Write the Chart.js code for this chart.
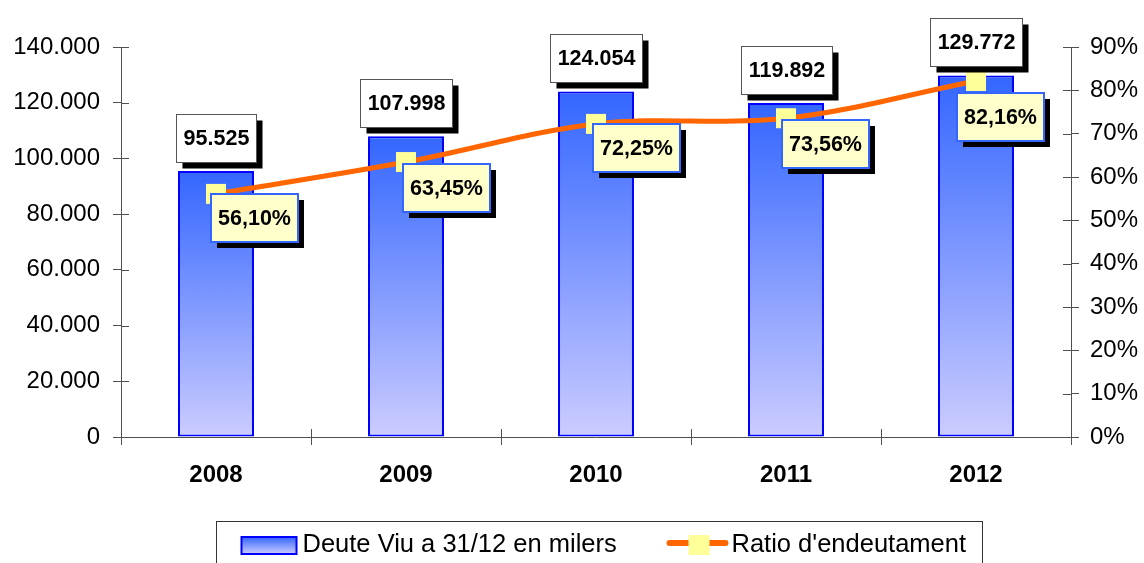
<!DOCTYPE html>
<html><head><meta charset="utf-8">
<script src="https://cdn.jsdelivr.net/npm/chart.js@4"></script>
<style>html,body{margin:0;padding:0;background:#fff}#wrap{width:1144px;height:563px;position:relative}</style>
</head><body><div id="wrap"><canvas id="c" width="1144" height="563"></canvas></div>
<script>
// ---- data ----
const years = ['2008', '2009', '2010', '2011', '2012'];
const debt = [95525, 107998, 124054, 119892, 129772];
const ratio = [56.10, 63.45, 72.25, 73.56, 82.16];
const debtLabel = 'Deute Viu a 31/12 en milers';
const ratioLabel = "Ratio d'endeutament";
const debtAxis = { min: 0, max: 140000, step: 20000 };
const ratioAxis = { min: 0, max: 90, step: 10 };

const FONT = '"Liberation Sans", Arial, Helvetica, sans-serif';
const fmtThousands = v => String(Math.round(v)).replace(/\B(?=(\d{3})+(?!\d))/g, '.');
const fmtPct = v => v.toFixed(2).replace('.', ',') + '%';

const AXIS_COLOR = '#505050';
const TICK_IN = 8;

function barGradient(ctx) {
  const chart = ctx.chart;
  if (!chart.chartArea || ctx.type !== 'data') return '#3366FF';
  const ys = chart.scales.y;
  const top = ys.getPixelForValue(ctx.raw);
  const bottom = ys.getPixelForValue(0);
  const g = chart.ctx.createLinearGradient(0, top, 0, bottom);
  g.addColorStop(0, '#3366FF');
  g.addColorStop(1, '#CCCCFF');
  return g;
}

function shadowBox(ctx, x, y, w, h, fill, stroke, lw) {
  ctx.fillStyle = '#000';
  ctx.fillRect(x + 6, y + 6, w, h);
  ctx.fillStyle = fill;
  ctx.fillRect(x, y, w, h);
  ctx.strokeStyle = stroke;
  ctx.lineWidth = lw;
  ctx.strokeRect(x, y, w, h);
}

const innerTicks = {
  id: 'innerTicks',
  afterDraw(chart) {
    const ctx = chart.ctx;
    const a = chart.chartArea;
    ctx.save();
    ctx.strokeStyle = AXIS_COLOR;
    ctx.lineWidth = 1;
    ctx.beginPath();
    chart.scales.y.ticks.forEach((t, i) => {
      const p = Math.round(chart.scales.y.getPixelForTick(i)) + 0.5;
      ctx.moveTo(a.left, p); ctx.lineTo(a.left + TICK_IN, p);
    });
    chart.scales.y1.ticks.forEach((t, i) => {
      const p = Math.round(chart.scales.y1.getPixelForTick(i)) + 0.5;
      ctx.moveTo(a.right - TICK_IN, p); ctx.lineTo(a.right, p);
    });
    const xs = chart.scales.x;
    for (let i = 1; i < years.length; i++) {
      const p = Math.round((xs.getPixelForValue(i - 1) + xs.getPixelForValue(i)) / 2) + 0.5;
      ctx.moveTo(p, a.bottom - TICK_IN); ctx.lineTo(p, a.bottom);
    }
    ctx.stroke();
    ctx.restore();
  }
};

const valueLabels = {
  id: 'valueLabels',
  afterDatasetsDraw(chart, args, opts) {
    const ctx = chart.ctx;
    ctx.save();
    ctx.font = 'bold 21.5px ' + FONT;
    ctx.textAlign = 'center';
    ctx.textBaseline = 'middle';
    chart.getDatasetMeta(0).data.forEach((el, i) => {
      const txt = fmtThousands(debt[i]);
      const w = Math.round(ctx.measureText(txt).width + 14), h = 48;
      const x = Math.round(el.x - w / 2) + 0.5, y = Math.round(el.y - 9 - h) + 0.5;
      shadowBox(ctx, x, y, w, h, '#FFFFFF', '#555555', 1);
      ctx.fillStyle = '#000';
      ctx.fillText(txt, x + w / 2, y + h / 2 + 1);
    });
    chart.getDatasetMeta(1).data.forEach((el, i) => {
      const txt = fmtPct(ratio[i]);
      const w = Math.round(ctx.measureText(txt).width + 14), h = 48;
      const off = opts.offsets[i];
      const x = Math.round(el.x + off[0]), y = Math.round(el.y + off[1]);
      shadowBox(ctx, x, y, w, h, '#FFFFCC', '#3366FF', 2);
      ctx.fillStyle = '#000';
      ctx.fillText(txt, x + w / 2, y + h / 2 + 1);
    });
    ctx.restore();
  }
};

const boxLegend = {
  id: 'boxLegend',
  afterDraw(chart) {
    const ctx = chart.ctx;
    const a = chart.chartArea;
    const cx = (a.left + a.right) / 2 + 3;
    const lw = 766;
    const left = Math.round(cx - lw / 2) + 0.5;
    const top = 521.5;
    ctx.save();
    ctx.strokeStyle = '#333';
    ctx.lineWidth = 1;
    ctx.strokeRect(left, top, lw, 80);
    // item 1
    const sx = left + 25, sy = 537;
    const g = ctx.createLinearGradient(0, sy, 0, sy + 17);
    g.addColorStop(0, '#3366FF'); g.addColorStop(1, '#CCCCFF');
    ctx.fillStyle = g;
    ctx.fillRect(sx, sy, 55, 17);
    ctx.strokeStyle = '#0000FF'; ctx.lineWidth = 2;
    ctx.strokeRect(sx, sy, 55, 17);
    ctx.font = '25.5px ' + FONT;
    ctx.fillStyle = '#000';
    ctx.textBaseline = 'alphabetic';
    ctx.textAlign = 'left';
    ctx.fillText(debtLabel, left + 86, 552);
    // item 2
    const lx = left + 453;
    ctx.strokeStyle = '#FF6600'; ctx.lineWidth = 6; ctx.lineCap = 'round';
    ctx.beginPath(); ctx.moveTo(lx, 543); ctx.lineTo(lx + 56, 543); ctx.stroke();
    ctx.fillStyle = '#FFFF99';
    ctx.fillRect(lx + 19, 535, 21, 20);
    ctx.fillStyle = '#000';
    ctx.fillText(ratioLabel, lx + 62, 552);
    ctx.restore();
  }
};

Chart.defaults.font.family = FONT;
Chart.defaults.color = '#000';

new Chart(document.getElementById('c'), {
  data: {
    labels: years,
    datasets: [
      {
        type: 'bar', label: debtLabel, data: debt, yAxisID: 'y', order: 2,
        backgroundColor: barGradient, borderColor: '#0000FF', borderWidth: 2,
        borderSkipped: false, barPercentage: 0.4, categoryPercentage: 1
      },
      {
        type: 'line', label: ratioLabel, data: ratio, yAxisID: 'y1', order: 1,
        borderColor: '#FF6600', borderWidth: 5, tension: 0.35,
        pointStyle: 'rect', pointRadius: 14.14, pointHoverRadius: 14.14,
        pointBackgroundColor: '#FFFF99', pointBorderColor: '#FFFF99', pointBorderWidth: 0,
        clip: false
      }
    ]
  },
  options: {
    responsive: false, animation: false, devicePixelRatio: 1,
    layout: { padding: { top: 47, left: 0, right: 0, bottom: 0 } },
    plugins: {
      legend: { display: false }, tooltip: { enabled: false },
      valueLabels: { offsets: [[-5, 0], [-3, 2], [-3, 0], [-4, 2], [-19, 12]] }
    },
    scales: {
      x: {
        offset: true,
        grid: { offset: true, drawOnChartArea: false, tickLength: 8, color: AXIS_COLOR, lineWidth: 1 },
        border: { color: AXIS_COLOR, width: 1 },
        ticks: { font: { size: 24, weight: 'bold' }, padding: 16, color: '#000' },
        afterFit: s => { s.height = 126; }
      },
      y: {
        position: 'left', min: debtAxis.min, max: debtAxis.max,
        grid: { drawOnChartArea: false, tickLength: 8, color: AXIS_COLOR, lineWidth: 1 },
        border: { color: AXIS_COLOR, width: 1 },
        ticks: { stepSize: debtAxis.step, font: { size: 24 }, padding: 13, color: '#000', callback: v => fmtThousands(v) },
        afterFit: s => { s.width = 121; }
      },
      y1: {
        position: 'right', min: ratioAxis.min, max: ratioAxis.max,
        grid: { drawOnChartArea: false, tickLength: 8, color: AXIS_COLOR, lineWidth: 1 },
        border: { color: AXIS_COLOR, width: 1 },
        ticks: { stepSize: ratioAxis.step, font: { size: 24 }, padding: 11, color: '#000', callback: v => v + '%' },
        afterFit: s => { s.width = 73; }
      }
    }
  },
  plugins: [innerTicks, valueLabels, boxLegend]
});
</script>
</body></html>
